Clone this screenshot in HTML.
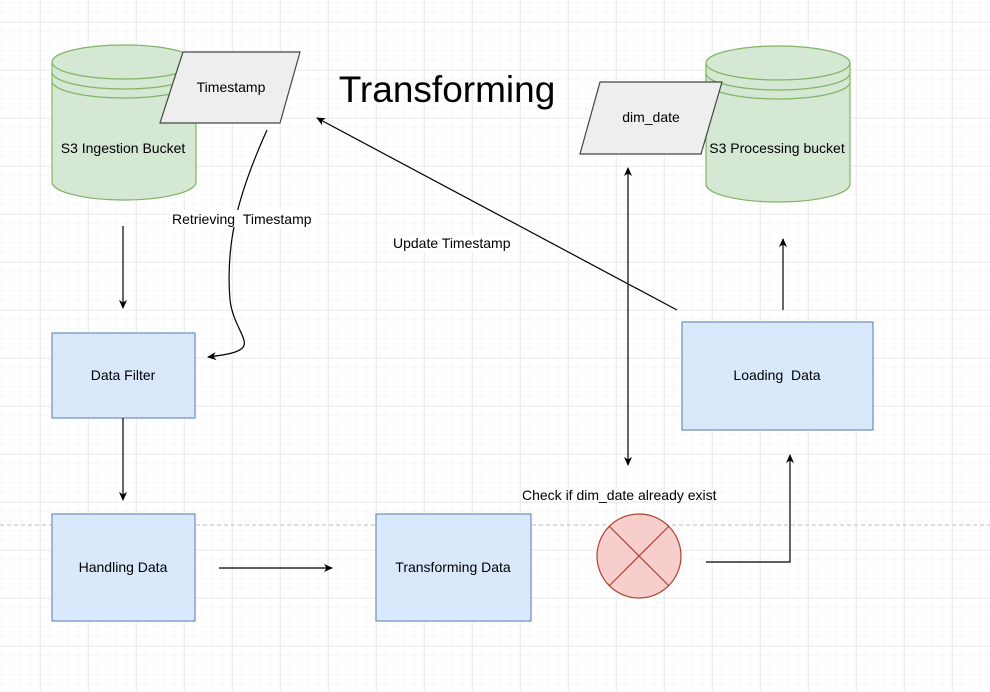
<!DOCTYPE html>
<html><head><meta charset="utf-8"><style>
body{margin:0;background:#fff}
svg{display:block;font-family:"Liberation Sans",sans-serif}
</style></head><body>
<svg width="990" height="692" viewBox="0 0 990 692" xmlns="http://www.w3.org/2000/svg">
<defs>
<pattern id="minor" x="40" y="22" width="9.6" height="9.6" patternUnits="userSpaceOnUse">
<path d="M9.6 0V9.6M0 9.6H9.6" fill="none" stroke="#f2f2f2" stroke-width="1"/>
</pattern>
<pattern id="major" x="40" y="22" width="48" height="48" patternUnits="userSpaceOnUse">
<path d="M0 0V48M0 0H48" fill="none" stroke="#e0e0e0" stroke-width="1"/>
</pattern>
<marker id="a" markerWidth="10" markerHeight="10" refX="8" refY="5" orient="auto" markerUnits="userSpaceOnUse">
<path d="M0 1L9 5L0 9L2.5 5Z" fill="#000"/>
</marker>
<marker id="as" markerWidth="10" markerHeight="10" refX="2" refY="5" orient="auto" markerUnits="userSpaceOnUse">
<path d="M10 1L1 5L10 9L7.5 5Z" fill="#000"/>
</marker>
</defs>
<rect width="990" height="692" fill="url(#minor)"/>
<rect width="990" height="692" fill="url(#major)"/>
<line x1="0" y1="525" x2="990" y2="525" stroke="#bbb" stroke-dasharray="4 3"/>

<!-- left cylinder -->
<g fill="#d5e8d4" stroke="#82b366" stroke-width="1.2">
<path d="M52 62V182A72 18 0 0 0 196 182V62"/>
<ellipse cx="124" cy="62" rx="72" ry="17"/>
<path d="M52 72A72 17 0 0 0 196 72M52 81A72 17 0 0 0 196 81" fill="none"/>
</g>
<text x="123" y="153" font-size="14" text-anchor="middle">S3 Ingestion Bucket</text>

<!-- right cylinder -->
<g fill="#d5e8d4" stroke="#82b366" stroke-width="1.2">
<path d="M706 63V184A72 18 0 0 0 850 184V63"/>
<ellipse cx="778" cy="63" rx="72" ry="17"/>
<path d="M706 73A72 17 0 0 0 850 73M706 82A72 17 0 0 0 850 82" fill="none"/>
</g>
<text x="777" y="153" font-size="14" text-anchor="middle">S3 Processing bucket</text>

<!-- parallelograms -->
<path d="M183 52H300L280 123H160Z" fill="#eeeeee" stroke="#444" stroke-width="1.2"/>
<text x="231" y="92" font-size="14" text-anchor="middle">Timestamp</text>
<path d="M600 82H722L701 154H580Z" fill="#eeeeee" stroke="#444" stroke-width="1.2"/>
<text x="651" y="122" font-size="14" text-anchor="middle">dim_date</text>

<text x="447" y="102" font-size="37" text-anchor="middle">Transforming</text>

<!-- boxes -->
<g fill="#dae8fc" stroke="#6c8ebf" stroke-width="1.2">
<rect x="52" y="333" width="143" height="85"/>
<rect x="52" y="514" width="143" height="107"/>
<rect x="376" y="514" width="155" height="107"/>
<rect x="682" y="322" width="191" height="108"/>
</g>
<g font-size="14" text-anchor="middle">
<text x="123" y="380">Data Filter</text>
<text x="123" y="572">Handling Data</text>
<text x="453" y="572">Transforming Data</text>
<text x="777" y="380">Loading&#160;&#160;Data</text>
</g>

<!-- circle -->
<circle cx="639" cy="556" r="42" fill="#f8cecc" stroke="#ae4132" stroke-width="1.2"/>
<path d="M609 526L669 586M669 526L609 586" stroke="#ae4132" stroke-width="1.2"/>

<!-- edges -->
<g stroke="#000" stroke-width="1.2" fill="none">
<line x1="123" y1="226" x2="123" y2="308" marker-end="url(#a)"/>
<line x1="123" y1="418" x2="123" y2="500" marker-end="url(#a)"/>
<line x1="219" y1="568" x2="332" y2="568" marker-end="url(#a)"/>
<path d="M267 130C240 190 225 240 230 300C235 340 270 350 208 357" marker-end="url(#a)"/>
<line x1="677" y1="310" x2="317" y2="118" marker-end="url(#a)"/>
<line x1="628" y1="168" x2="628" y2="465" marker-end="url(#a)" marker-start="url(#as)"/>
<line x1="783" y1="310" x2="783" y2="239" marker-end="url(#a)"/>
<path d="M706 562H790V455" marker-end="url(#a)"/>
</g>
<rect x="170" y="210" width="148" height="17" fill="#fff"/>
<text x="172" y="224" font-size="14">Retrieving&#160;&#160;Timestamp</text>
<rect x="392" y="235" width="124" height="16" fill="#fff"/>
<text x="393" y="248" font-size="14">Update Timestamp</text>
<text x="522" y="500" font-size="14">Check if dim_date already exist</text>
</svg>
</body></html>
